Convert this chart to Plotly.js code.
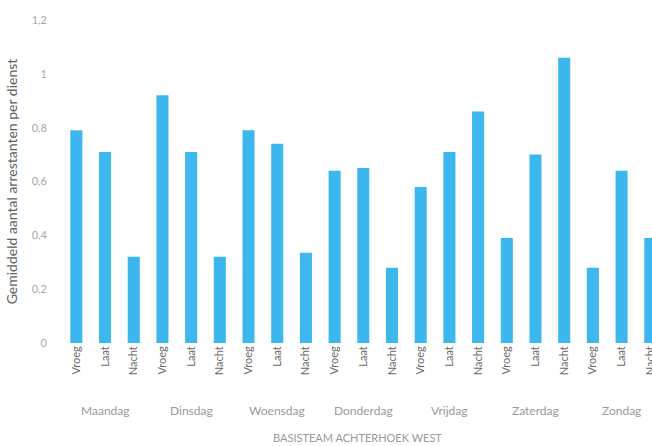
<!DOCTYPE html>
<html>
<head>
<meta charset="utf-8">
<script src="https://cdn.plot.ly/plotly-3.0.1.min.js"></script>
<style>html,body{margin:0;padding:0;background:#fff;}#chart{width:652px;height:446px;}</style>
</head>
<body>
<div id="chart"></div>
<script>
var days = ["Maandag","Dinsdag","Woensdag","Donderdag","Vrijdag","Zaterdag","Zondag"];
var shifts = ["Vroeg","Laat","Nacht"];
var values = [
  0.79, 0.71, 0.32,
  0.92, 0.71, 0.32,
  0.79, 0.74, 0.335,
  0.64, 0.65, 0.28,
  0.58, 0.71, 0.86,
  0.39, 0.70, 1.06,
  0.28, 0.64, 0.39
];
var yTicks = [0, 0.2, 0.4, 0.6, 0.8, 1, 1.2];
var xTitle = "BASISTEAM ACHTERHOEK WEST";
var yTitle = "Gemiddeld aantal arrestanten per dienst";

var xs = [], tickText = [];
days.forEach(function(d, di){
  shifts.forEach(function(s, si){
    xs.push(di*shifts.length + si);
    tickText.push(s);
  });
});

var annotations = days.map(function(d, di){
  return {
    x: di*shifts.length + (shifts.length-1)/2, xref: 'x',
    y: 0, yref: 'paper', yshift: -67,
    text: d, showarrow: false,
    font: {family: 'Lato, sans-serif', size: 12, color: '#9a9a9a'},
    xanchor: 'center', yanchor: 'middle'
  };
});
annotations.push({
  x: 0.5, xref: 'paper', y: 0, yref: 'paper', yshift: -94,
  text: xTitle, showarrow: false,
  font: {family: 'Lato, sans-serif', size: 11, color: '#9a9a9a'},
  xanchor: 'center', yanchor: 'middle'
});

var trace = {
  type: 'bar', x: xs, y: values, width: 0.42,
  marker: {color: '#3DB8EE'}, hoverinfo: 'y'
};

var layout = {
  width: 652, height: 446,
  margin: {l: 62, r: 0, t: 20, b: 103},
  paper_bgcolor: '#ffffff', plot_bgcolor: '#ffffff',
  separators: ',.',
  showlegend: false,
  font: {family: 'Lato, sans-serif'},
  xaxis: {
    range: [-0.5, 20.06],
    tickmode: 'array', tickvals: xs, ticktext: tickText,
    tickangle: -90, ticks: '', showgrid: false, zeroline: false, showline: false,
    ticklabeloverflow: 'allow',
    tickfont: {family: 'Lato, sans-serif', size: 11, color: '#6a6a6a'}
  },
  yaxis: {
    range: [0, 1.2], tickmode: 'array', tickvals: yTicks,
    showgrid: false, zeroline: false, showline: false, ticks: '',
    ticklabelstandoff: 14,
    tickfont: {family: 'Lato, sans-serif', size: 11, color: '#a8a8a8'},
    title: {text: yTitle, standoff: 10, font: {family: 'Lato, sans-serif', size: 14, color: '#606060'}}
  },
  annotations: annotations
};

Plotly.newPlot('chart', [trace], layout, {displayModeBar: false, staticPlot: true});
</script>
</body>
</html>
